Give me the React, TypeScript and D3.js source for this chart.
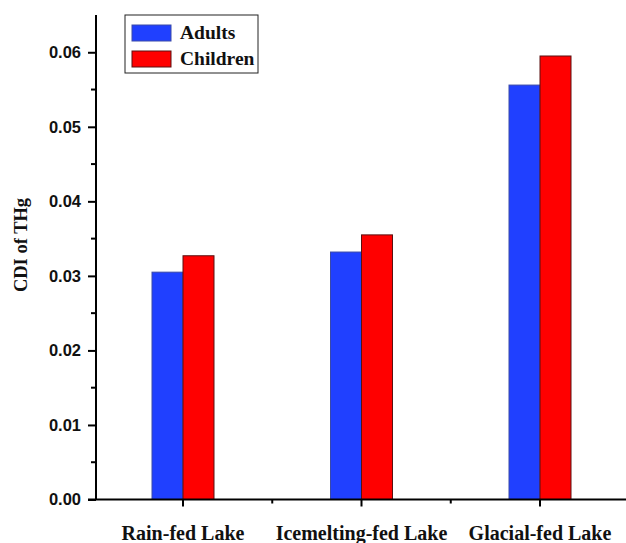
import { useEffect, useRef } from 'react'
import * as d3 from 'd3'

const categories = ['Rain-fed Lake', 'Icemelting-fed Lake', 'Glacial-fed Lake']
const adults = [0.0305, 0.0332, 0.0556]
const children = [0.0327, 0.0355, 0.0595]
const seriesNames = ['Adults', 'Children']
const seriesColors = ['#2040ff', '#ff0000']
const seriesStrokes = ['#3a4aa8', '#5a1010']
const yTicks = [0, 0.01, 0.02, 0.03, 0.04, 0.05, 0.06]
const yMinorTicks = [0.005, 0.015, 0.025, 0.035, 0.045, 0.055]

export default function App() {
  const svgRef = useRef<SVGSVGElement>(null)
  const width = 626
  const height = 543

  useEffect(() => {
    if (!svgRef.current) return
    const svg = d3.select(svgRef.current)
    svg.selectAll('*').remove()

    const left = 96
    const bottom = 499.5
    const serif = 'Liberation Serif, Times New Roman, serif'

    const y = d3.scaleLinear().domain([0, 0.065]).range([bottom, 15])
    const x = d3.scaleBand().domain(categories).range([93.75, 629.25]).padding(0)
    const barW = 31
    const center = (c: string) => (x(c) ?? 0) + x.bandwidth() / 2

    // bars
    const series = [adults, children]
    series.forEach((vals, si) => {
      svg.append('g')
        .selectAll('rect')
        .data(categories)
        .enter()
        .append('rect')
        .attr('x', (d) => center(d) + (si === 0 ? -barW : 0))
        .attr('y', (d, i) => y(vals[i]))
        .attr('width', barW)
        .attr('height', (d, i) => bottom - y(vals[i]))
        .attr('fill', seriesColors[si])
        .attr('stroke', seriesStrokes[si])
        .attr('stroke-width', 1)
    })

    // y axis
    const yAxis = svg.append('g').attr('transform', `translate(${left},0)`)
    yAxis.call(
      d3.axisLeft(y).tickValues(yTicks).tickSize(8).tickSizeOuter(0)
        .tickFormat((d) => d3.format('.2f')(d as number))
    )
    yAxis.select('.domain').attr('stroke-width', 2).attr('d', `M0,${bottom}V15`)
    yAxis.selectAll('.tick line').attr('stroke-width', 2)
    yAxis.selectAll('.tick text')
      .attr('font-family', 'Liberation Sans, Arial, sans-serif')
      .attr('font-size', 16.5)
      .attr('font-weight', 'bold')
      .attr('fill', '#111')
      .attr('x', -15)
    svg.append('g')
      .selectAll('line')
      .data(yMinorTicks)
      .enter()
      .append('line')
      .attr('x1', left - 5)
      .attr('x2', left)
      .attr('y1', (d) => y(d))
      .attr('y2', (d) => y(d))
      .attr('stroke', '#000')
      .attr('stroke-width', 2)

    // x axis
    svg.append('line')
      .attr('x1', left - 8)
      .attr('x2', width)
      .attr('y1', bottom)
      .attr('y2', bottom)
      .attr('stroke', '#000')
      .attr('stroke-width', 2)
    svg.append('g')
      .selectAll('line')
      .data(categories)
      .enter()
      .append('line')
      .attr('x1', (d) => center(d))
      .attr('x2', (d) => center(d))
      .attr('y1', bottom)
      .attr('y2', bottom + 7)
      .attr('stroke', '#000')
      .attr('stroke-width', 2)
    svg.append('g')
      .selectAll('line')
      .data(categories.slice(1))
      .enter()
      .append('line')
      .attr('x1', (d) => x(d) ?? 0)
      .attr('x2', (d) => x(d) ?? 0)
      .attr('y1', bottom)
      .attr('y2', bottom + 4)
      .attr('stroke', '#000')
      .attr('stroke-width', 2)
    svg.append('g')
      .selectAll('text')
      .data(categories)
      .enter()
      .append('text')
      .attr('x', (d) => center(d))
      .attr('y', 540)
      .attr('text-anchor', 'middle')
      .attr('font-family', serif)
      .attr('font-weight', 'bold')
      .attr('font-size', 20)
      .attr('fill', '#111')
      .text((d) => d)

    // y title
    svg.append('text')
      .attr('transform', `translate(27,245) rotate(-90)`)
      .attr('text-anchor', 'middle')
      .attr('font-family', serif)
      .attr('font-weight', 'bold')
      .attr('font-size', 18.5)
      .attr('fill', '#111')
      .text('CDI of THg')

    // legend
    const lg = svg.append('g').attr('transform', 'translate(125,15)')
    lg.append('rect')
      .attr('width', 133)
      .attr('height', 58)
      .attr('fill', '#fff')
      .attr('stroke', '#222')
      .attr('stroke-width', 1)
    seriesNames.forEach((name, i) => {
      lg.append('rect')
        .attr('x', 7)
        .attr('y', 10 + i * 26)
        .attr('width', 39)
        .attr('height', 16)
        .attr('fill', seriesColors[i])
        .attr('stroke', seriesStrokes[i])
        .attr('stroke-width', 1)
      lg.append('text')
        .attr('x', 55)
        .attr('y', 24 + i * 26)
        .attr('font-family', serif)
        .attr('font-weight', 'bold')
        .attr('font-size', 19.5)
        .attr('fill', '#111')
        .text(name)
    })
  }, [])

  return (
    <div style={{ position: 'absolute', left: 0, top: 0, width, height, background: '#fff' }}>
      <svg ref={svgRef} width={width} height={height} style={{ display: 'block' }} />
    </div>
  )
}
